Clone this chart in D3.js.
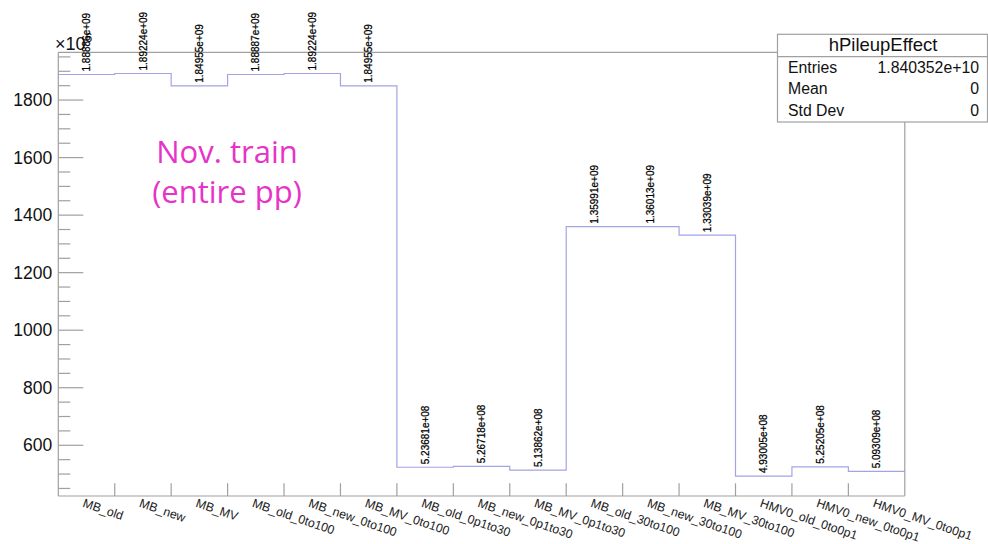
<!DOCTYPE html>
<html>
<head>
<meta charset="utf-8">
<script src="https://cdn.jsdelivr.net/npm/d3@7"></script>
<style>
  html, body { margin: 0; padding: 0; background: #fff; }
  svg { display: block; }
</style>
</head>
<body>
<svg id="chart" width="988" height="544"></svg>
<script>
// Bin labels of hPileupEffect
const categories = [
  "MB_old", "MB_new", "MB_MV",
  "MB_old_0to100", "MB_new_0to100", "MB_MV_0to100",
  "MB_old_0p1to30", "MB_new_0p1to30", "MB_MV_0p1to30",
  "MB_old_30to100", "MB_new_30to100", "MB_MV_30to100",
  "HMV0_old_0to0p1", "HMV0_new_0to0p1", "HMV0_MV_0to0p1"
];
// Bin contents (events)
const values = [
  1.88886e9, 1.89224e9, 1.84955e9,
  1.88887e9, 1.89224e9, 1.84955e9,
  5.23681e8, 5.26718e8, 5.13862e8,
  1.35991e9, 1.36013e9, 1.33039e9,
  4.93005e8, 5.25205e8, 5.09309e8
];
const yTicks = [600, 800, 1000, 1200, 1400, 1600, 1800];
const yDomain = [423.7, 1966];   // axis in units of 10^6
const statsRows = [["Entries", "1.840352e+10"], ["Mean", "0"], ["Std Dev", "0"]];
const noteLines = ["Nov. train", "(entire pp)"];

const svg = d3.select("#chart");
const frame = { left: 58.3, right: 904.8, top: 52.3, bottom: 496 };
const axisColor = "#a0a0a0";
const histColor = "#a3a3e6";
const font = "'Liberation Sans', Arial, Helvetica, sans-serif";

const x = d3.scaleLinear().domain([0, categories.length]).range([frame.left, frame.right]);
const y = d3.scaleLinear().domain(yDomain).range([frame.bottom, frame.top]);
const scaled = values.map(v => v / 1e6);

// histogram step outline
const pts = [];
scaled.forEach((v, i) => {
  pts.push([x(i), y(v)]);
  pts.push([x(i + 1), y(v)]);
});
svg.append("path")
  .attr("d", d3.line()(pts))
  .attr("fill", "none")
  .attr("stroke", histColor)
  .attr("stroke-width", 1.2);

// frame (top and right)
svg.append("path")
  .attr("d", `M${frame.left},${frame.top}H${frame.right}V${frame.bottom}`)
  .attr("fill", "none").attr("stroke", axisColor).attr("stroke-width", 1.2);

// y axis with major/minor ticks
const yAxis = d3.axisLeft(y).tickValues(yTicks).tickSize(0).tickFormat(d3.format("d"));
const yg = svg.append("g").attr("transform", `translate(${frame.left},0)`).call(yAxis);
yg.select(".domain").remove();
yg.selectAll("text").attr("x", -6).attr("font-family", font).attr("font-size", 17.5).attr("fill", "#111");
const minor = d3.range(450, yDomain[1], 50);
svg.append("g").selectAll("line").data(minor).join("line")
  .attr("x1", frame.left)
  .attr("x2", d => frame.left + (d % 200 === 0 ? 25 : 12))
  .attr("y1", d => y(d)).attr("y2", d => y(d))
  .attr("stroke", axisColor).attr("stroke-width", 1.2);
svg.append("line")
  .attr("x1", frame.left).attr("x2", frame.left)
  .attr("y1", frame.top).attr("y2", frame.bottom)
  .attr("stroke", axisColor).attr("stroke-width", 1.2);

// x axis: ticks at bin edges, labels tilted
svg.append("line")
  .attr("x1", frame.left).attr("x2", frame.right)
  .attr("y1", frame.bottom).attr("y2", frame.bottom)
  .attr("stroke", axisColor).attr("stroke-width", 1.2);
svg.append("g").selectAll("line").data(d3.range(1, categories.length)).join("line")
  .attr("x1", d => x(d)).attr("x2", d => x(d))
  .attr("y1", frame.bottom).attr("y2", frame.bottom - 12.7)
  .attr("stroke", axisColor).attr("stroke-width", 1.2);
svg.append("g").selectAll("text").data(categories).join("text")
  .attr("transform", (d, i) => `translate(${x(i + 0.5) - 1.5},${frame.bottom + 2}) rotate(19)`)
  .attr("y", 9)
  .attr("font-family", font).attr("font-size", 12.3).attr("fill", "#222")
  .text(d => d);

// exponent marker
const expo = svg.append("text")
  .attr("x", 55).attr("y", 50)
  .attr("font-family", font).attr("font-size", 18).attr("fill", "#111");
expo.append("tspan").text("\u00d710");
expo.append("tspan").attr("dy", -8).attr("font-size", 12).text("6");

// value labels above each bin
svg.append("g").selectAll("text").data(values).join("text")
  .attr("transform", (d, i) => `translate(${x(i + 0.5) + 3.6},${y(d / 1e6) - 3}) rotate(-90)`)
  .attr("font-family", font).attr("font-size", 10).attr("fill", "#000")
  .attr("stroke", "#000").attr("stroke-width", 0.25)
  .text(d => d3.format(".6")(d / Math.pow(10, Math.floor(Math.log10(d)))) + "e+" +
        String(Math.floor(Math.log10(d))).padStart(2, "0"));

// stats box
const box = { x: 777.5, y: 34.3, w: 210, h: 87.7 };
svg.append("rect")
  .attr("x", box.x).attr("y", box.y).attr("width", box.w).attr("height", box.h)
  .attr("fill", "#fff").attr("stroke", axisColor).attr("stroke-width", 1.2);
svg.append("line")
  .attr("x1", box.x).attr("x2", box.x + box.w)
  .attr("y1", 56.6).attr("y2", 56.6)
  .attr("stroke", axisColor).attr("stroke-width", 1.2);
svg.append("text")
  .attr("x", 883).attr("y", 50.5).attr("text-anchor", "middle")
  .attr("font-family", font).attr("font-size", 18.5).attr("fill", "#111")
  .text("hPileupEffect");
const rows = svg.append("g").selectAll("g").data(statsRows).join("g")
  .attr("transform", (d, i) => `translate(0,${72.5 + i * 21.6})`);
rows.append("text").attr("x", 788)
  .attr("font-family", font).attr("font-size", 15.8).attr("fill", "#111")
  .text(d => d[0]);
rows.append("text").attr("x", 979).attr("text-anchor", "end")
  .attr("font-family", font).attr("font-size", 15.8).attr("fill", "#111")
  .text(d => d[1]);

// annotation
svg.append("g").selectAll("text").data(noteLines).join("text")
  .attr("x", 227).attr("y", (d, i) => 163 + i * 40)
  .attr("text-anchor", "middle")
  .attr("font-family", "'Open Sans', sans-serif").attr("font-size", 31)
  .attr("fill", "#e634c8")
  .text(d => d);
</script>
</body>
</html>
